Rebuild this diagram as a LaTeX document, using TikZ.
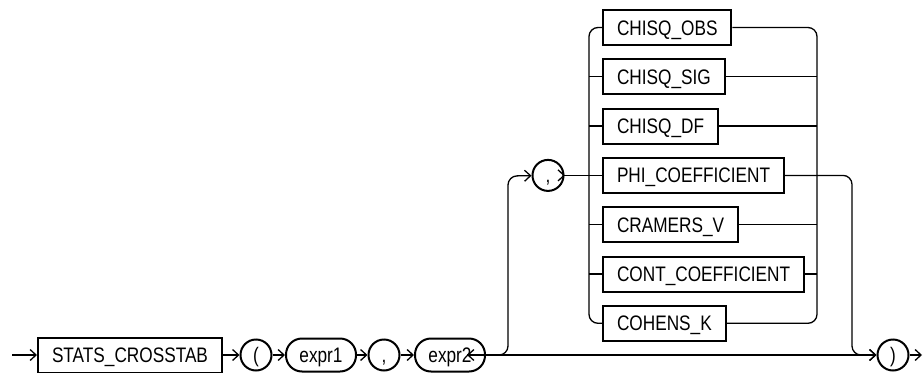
\documentclass[tikz,border=0pt]{standalone}
\usepackage{fontspec}
\setmainfont{Liberation Sans}[FakeStretch=0.82]
\usetikzlibrary{arrows.meta}
\newcommand\railfont{\fontsize{21}{25}\selectfont}
\tikzset{
  rail/.style={line width=1.3pt},
  railto/.style={rail,-{Straight Barb[length=6pt,width=11pt,line width=1.3pt]}},
  kwbox/.style={draw,line width=2pt,rectangle,inner xsep=14pt,inner ysep=0pt,
    minimum height=35pt,text height=15pt,text depth=0pt,font=\railfont},
  varbox/.style={draw,line width=2pt,rectangle,rounded corners=16pt,inner sep=0pt,
    minimum width=70pt,minimum height=33pt,text height=15pt,text depth=0pt,font=\railfont},
  symbox/.style={draw,line width=2pt,circle,inner sep=0pt,minimum size=31pt,
    text height=15pt,text depth=0pt,font=\railfont},
}
\begin{document}
\begin{tikzpicture}[x=1pt,y=-1pt]
\useasboundingbox (0,0) rectangle (923,372);
% main line
\coordinate (start) at (12,355);
\node[kwbox,anchor=west] (stats) at (37,355) {STATS\_CROSSTAB};
\node[symbox] (lpar) at (256,355) {(};
\node[varbox,anchor=west] (expr1) at (285,355) {expr1};
\node[symbox] (comma1) at (384,355) {,};
\node[varbox,anchor=west] (expr2) at (414,355) {expr2};
\node[symbox] (rpar) at (893,355) {)};
\coordinate (finish) at (922,355);
\draw[railto] (start) -- (stats);
\draw[railto] (stats) -- (lpar);
\draw[railto] (lpar) -- (expr1);
\draw[railto] (expr1) -- (comma1);
\draw[railto] (comma1) -- (expr2);
\draw[railto] (expr2) -- ++(17,0) coordinate (split);
\draw[railto] (split) -- (rpar);
\draw[railto] (rpar) -- (finish);
% optional part
\coordinate (up) at (508,176);
\node[symbox] (comma2) at (548,175.4) {,};
\draw[railto,rounded corners=9pt] (split) -| (up) -- (comma2);
% choice of statistics
\coordinate (busL) at (589,0);
\coordinate (busR) at (817,0);
\coordinate (down) at (852,0);
\node[kwbox,anchor=west] (obs) at (602,27.5) {CHISQ\_OBS};
\node[kwbox,anchor=west] (sig) at (602,76.8) {CHISQ\_SIG};
\node[kwbox,anchor=west] (df) at (602,126.1) {CHISQ\_DF};
\node[kwbox,anchor=west] (phi) at (602,175.4) {PHI\_COEFFICIENT};
\node[kwbox,anchor=west] (cramers) at (602,224.7) {CRAMERS\_V};
\node[kwbox,anchor=west] (cont) at (602,274) {CONT\_COEFFICIENT};
\node[kwbox,anchor=west] (cohens) at (602,323.3) {COHENS\_K};
\draw[railto] (comma2) -- ++(17,0) coordinate (enter);
\draw[rail] (enter) -- (phi);
\draw[rail,rounded corners=9pt] (obs.west) -- (obs.west -| busL) -- (cohens.west -| busL) -- (cohens.west);
\draw[rail,rounded corners=9pt] (obs.east) -- (obs.east -| busR) -- (cohens.east -| busR) -- (cohens.east);
\foreach \row in {sig,df,cramers,cont}{
  \draw[rail] (\row.west -| busL) -- (\row.west);
  \draw[rail] (\row.east) -- (\row.east -| busR);
}
\draw[rail] (phi.west -| busL) -- (phi.west);
\draw[railto,rounded corners=9pt] (phi.east) -- (phi.east -| down) -- (rpar.west -| down) -- (rpar);
\end{tikzpicture}
\end{document}
